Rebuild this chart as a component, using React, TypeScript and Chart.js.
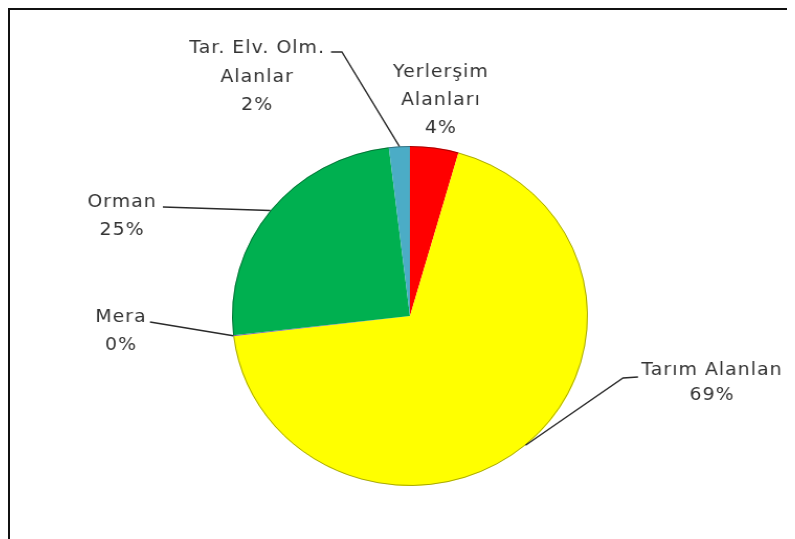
import React, { useEffect, useRef } from "react";
import { Chart, registerables } from "chart.js";

Chart.register(...registerables);

// ---- data ----
const categories = ["Yerlerşim Alanları", "Tarım Alanlan", "Mera", "Orman", "Tar. Elv. Olm. Alanlar"];
const labelLines = [["Yerlerşim", "Alanları"], ["Tarım Alanlan"], ["Mera"], ["Orman"], ["Tar. Elv. Olm.", "Alanlar"]];
const values = [4.4, 68.7, 0.1, 24.9, 1.9];
const colors = ["#FF0000", "#FFFF00", "#8064A2", "#00B050", "#4BACC6"];

// ---- layout (logical canvas coordinates) ----
const STRETCH = 1.047;
const CANVAS_W = 750;
const CANVAS_H = 529;
const labelLayout = [
  { x: 411.6, y: 67, pitch: 28 },
  { x: 670.5, y: 365, pitch: 25, start: [599.8, 367], knee: [585.5, 368] },
  { x: 106, y: 312, pitch: 28, start: [133.7, 312], knee: [133.7, 312] },
  { x: 107, y: 197, pitch: 28, start: [146, 197], knee: [146, 197] },
  { x: 236, y: 43, pitch: 28.5, start: [306.6, 42], knee: [317, 42] },
];

const labelPlugin = {
  id: "pieLabels",
  afterDatasetsDraw(chart: any) {
    const ctx = chart.ctx as CanvasRenderingContext2D;
    const meta = chart.getDatasetMeta(0);
    const total = values.reduce((a, b) => a + b, 0);
    ctx.save();
    // subtle outer edge
    meta.data.forEach((arc: any) => {
      const p = arc.getProps(["x", "y", "startAngle", "endAngle", "outerRadius"], true);
      ctx.beginPath();
      ctx.arc(p.x, p.y, p.outerRadius - 0.5, p.startAngle, p.endAngle);
      ctx.strokeStyle = "rgba(0,0,0,0.35)";
      ctx.lineWidth = 1;
      ctx.stroke();
    });
    // leader lines
    meta.data.forEach((arc: any, i: number) => {
      const L: any = labelLayout[i];
      if (!L.start) return;
      const p = arc.getProps(["x", "y", "startAngle", "endAngle", "outerRadius"], true);
      const mid = (p.startAngle + p.endAngle) / 2;
      const ax = p.x + Math.cos(mid) * p.outerRadius;
      const ay = p.y + Math.sin(mid) * p.outerRadius;
      ctx.beginPath();
      ctx.moveTo(L.start[0], L.start[1]);
      ctx.lineTo(L.knee[0], L.knee[1]);
      ctx.lineTo(ax, ay);
      ctx.strokeStyle = "#2a2a2a";
      ctx.lineWidth = 1.4;
      ctx.stroke();
    });
    // texts
    ctx.fillStyle = "#333333";
    ctx.font = '18px "DejaVu Sans"';
    (ctx as any).letterSpacing = "1px";
    ctx.textAlign = "center";
    ctx.textBaseline = "alphabetic";
    labelLines.forEach((lines, i) => {
      const L = labelLayout[i];
      const pct = Math.round((values[i] / total) * 100) + "%";
      const all = [...lines, pct];
      all.forEach((t, j) => {
        ctx.fillText(t, L.x, L.y + j * L.pitch);
      });
    });
    ctx.restore();
  },
};

export default function App() {
  const ref = useRef<HTMLCanvasElement | null>(null);
  useEffect(() => {
    document.documentElement.style.overflow = "hidden";
    document.body.style.overflow = "hidden";
    const chart = new Chart(ref.current as HTMLCanvasElement, {
      type: "pie",
      data: {
        labels: categories,
        datasets: [
          {
            data: values,
            backgroundColor: colors,
            borderWidth: 0,
          },
        ],
      },
      options: {
        responsive: false,
        animation: false,
        radius: 170,
        layout: { padding: { left: 212, right: 198, top: 136, bottom: 53 } },
        plugins: {
          legend: { display: false },
          tooltip: { enabled: false },
        },
      } as any,
      plugins: [labelPlugin],
    });
    return () => chart.destroy();
  }, []);
  return (
    <div
      style={{
        borderLeft: "2px solid #111",
        borderTop: "2px solid #111",
        width: 785,
        height: 531,
        overflow: "hidden",
        background: "#fff",
      }}
    >
      <canvas
        ref={ref}
        width={CANVAS_W}
        height={CANVAS_H}
        style={{ display: "block", transform: `scaleX(${STRETCH})`, transformOrigin: "0 0" }}
      />
    </div>
  );
}
